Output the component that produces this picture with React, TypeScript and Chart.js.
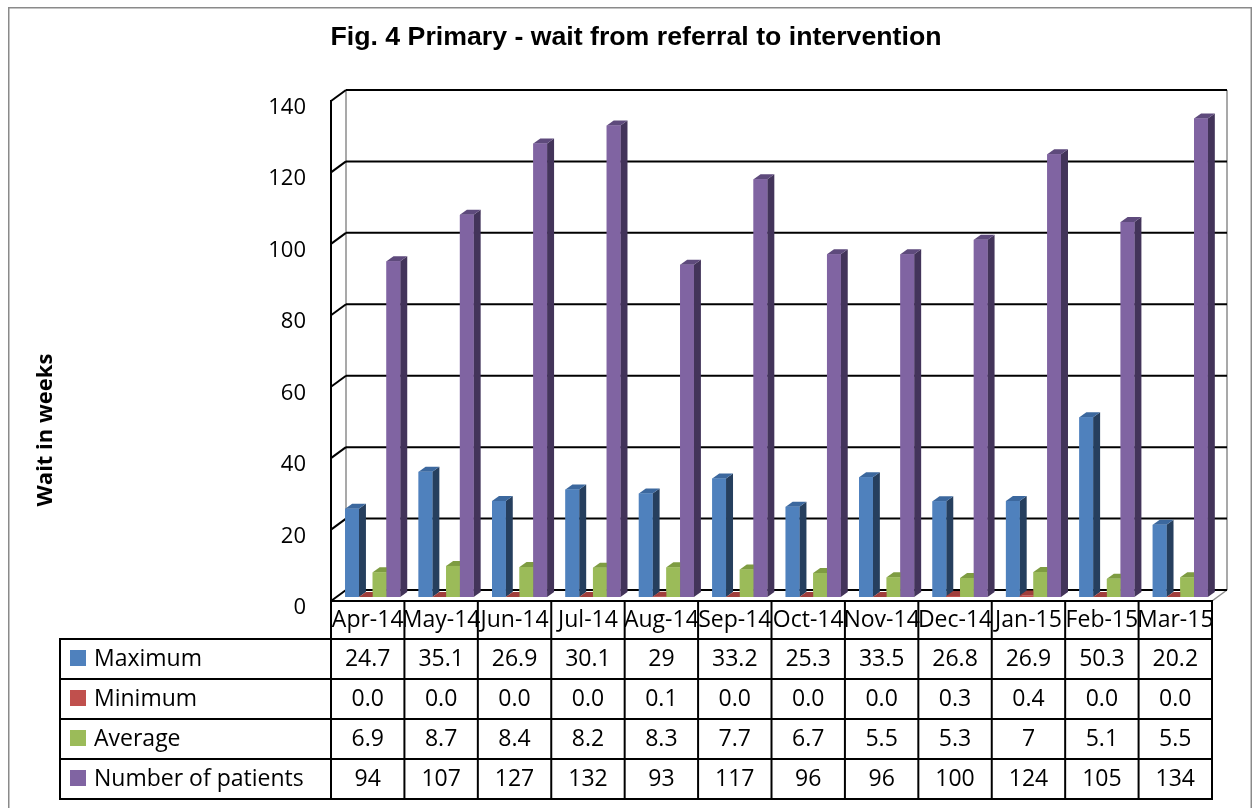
import React, { useEffect, useRef } from "react";
import { Chart, registerables } from "chart.js";

Chart.register(...registerables);

const TITLE = "Fig. 4 Primary - wait from referral to intervention";
const Y_TITLE = "Wait in weeks";
const CATEGORIES = ["Apr-14", "May-14", "Jun-14", "Jul-14", "Aug-14", "Sep-14", "Oct-14", "Nov-14", "Dec-14", "Jan-15", "Feb-15", "Mar-15"];
const MAXIMUM = [24.7, 35.1, 26.9, 30.1, 29, 33.2, 25.3, 33.5, 26.8, 26.9, 50.3, 20.2];
const MINIMUM = [0.0, 0.0, 0.0, 0.0, 0.1, 0.0, 0.0, 0.0, 0.3, 0.4, 0.0, 0.0];
const AVERAGE = [6.9, 8.7, 8.4, 8.2, 8.3, 7.7, 6.7, 5.5, 5.3, 7, 5.1, 5.5];
const PATIENTS = [94, 107, 127, 132, 93, 117, 96, 96, 100, 124, 105, 134];
const Y_TICKS = [0, 20, 40, 60, 80, 100, 120, 140];

const SERIES_NAMES = ["Maximum", "Minimum", "Average", "Number of patients"];
const SERIES_DATA = [MAXIMUM, MINIMUM, AVERAGE, PATIENTS];
const SERIES_DECIMALS = [-1, 1, -1, -1];
const FRONT_COLORS = ["#4F81BD", "#C0504D", "#9BBB59", "#8064A2"];
const SIDE_COLORS = ["#263F5E", "#873532", "#6C8638", "#43345A"];
const TOP_COLORS = ["#3C689E", "#A03E3B", "#7E9C42", "#5E4A7C"];

const W = 1244;
const H = 801;
const FRONT = { dx: -5, dy: 4 };
const BACK = { dx: 10, dy: -7 };
const BAR_DEPTH = { dx: 7, dy: -5 };
const FONT = "'Open Sans', 'Liberation Sans', sans-serif";

function fmt(v: number, dec: number) {
  return dec >= 0 ? v.toFixed(dec) : String(v);
}

function line(ctx: CanvasRenderingContext2D, x1: number, y1: number, x2: number, y2: number) {
  ctx.beginPath();
  ctx.moveTo(x1, y1);
  ctx.lineTo(x2, y2);
  ctx.stroke();
}

const threeD = {
  id: "threeD",
  beforeDraw(chart: any) {
    const ctx = chart.ctx as CanvasRenderingContext2D;
    ctx.save();
    ctx.fillStyle = "#ffffff";
    ctx.fillRect(0, 0, chart.width, chart.height);
    ctx.strokeStyle = "#8a8a8a";
    ctx.lineWidth = 1.5;
    ctx.strokeRect(0.75, 0.75, chart.width - 1.5, chart.height + 10);
    // title
    ctx.fillStyle = "#000";
    ctx.font = "bold 26.7px 'Liberation Sans', Arial, sans-serif";
    ctx.textAlign = "center";
    ctx.textBaseline = "alphabetic";
    ctx.fillText(TITLE, 628, 38);
    // y title
    ctx.save();
    ctx.translate(38, 423);
    ctx.rotate(-Math.PI / 2);
    ctx.font = "bold 22px " + FONT;
    ctx.textBaseline = "middle";
    ctx.fillText(Y_TITLE, 0, 0);
    ctx.restore();
    ctx.restore();
  },
  beforeDatasetsDraw(chart: any) {
    const ctx = chart.ctx as CanvasRenderingContext2D;
    const area = chart.chartArea;
    const ys = chart.scales.y;
    const yTop = ys.getPixelForValue(Y_TICKS[Y_TICKS.length - 1]);
    const y0 = ys.getPixelForValue(0);
    ctx.save();
    // back wall edges (gray)
    ctx.strokeStyle = "#8c8c8c";
    ctx.lineWidth = 1.5;
    line(ctx, area.left + BACK.dx, yTop + BACK.dy, area.left + BACK.dx, y0 + BACK.dy);
    line(ctx, area.right + BACK.dx, yTop + BACK.dy, area.right + BACK.dx, y0 + BACK.dy);
    line(ctx, area.right + FRONT.dx, y0 + FRONT.dy, area.right + BACK.dx, y0 + BACK.dy);
    // gridlines
    ctx.strokeStyle = "#000";
    ctx.lineWidth = 2;
    ctx.font = "22px " + FONT;
    ctx.fillStyle = "#000";
    ctx.textAlign = "right";
    ctx.textBaseline = "alphabetic";
    for (const v of Y_TICKS) {
      const yb = ys.getPixelForValue(v);
      line(ctx, area.left + BACK.dx, yb + BACK.dy, area.right + BACK.dx, yb + BACK.dy);
      line(ctx, area.left + FRONT.dx, yb + FRONT.dy, area.left + BACK.dx, yb + BACK.dy);
      ctx.fillText(String(v), 298, yb + FRONT.dy + 13);
    }
    line(ctx, area.left + FRONT.dx, yTop + FRONT.dy - 1, area.left + FRONT.dx, y0 + FRONT.dy);
    ctx.restore();
  },
  afterDatasetsDraw(chart: any) {
    const ctx = chart.ctx as CanvasRenderingContext2D;
    ctx.save();
    for (let i = 0; i < CATEGORIES.length; i++) {
      for (let d = 0; d < SERIES_DATA.length; d++) {
        const el = chart.getDatasetMeta(d).data[i];
        const { x, y, base, width } = el.getProps(["x", "y", "base", "width"], true);
        const l = x - width / 2;
        const r = x + width / 2;
        const top = Math.min(y, base);
        const bot = Math.max(y, base);
        ctx.fillStyle = SIDE_COLORS[d];
        ctx.beginPath();
        ctx.moveTo(r, top);
        ctx.lineTo(r + BAR_DEPTH.dx, top + BAR_DEPTH.dy);
        ctx.lineTo(r + BAR_DEPTH.dx, bot + BAR_DEPTH.dy);
        ctx.lineTo(r, bot);
        ctx.closePath();
        ctx.fill();
        ctx.fillStyle = TOP_COLORS[d];
        ctx.beginPath();
        ctx.moveTo(l, top);
        ctx.lineTo(l + BAR_DEPTH.dx, top + BAR_DEPTH.dy);
        ctx.lineTo(r + BAR_DEPTH.dx, top + BAR_DEPTH.dy);
        ctx.lineTo(r, top);
        ctx.closePath();
        ctx.fill();
        el.draw(ctx);
      }
    }
    ctx.restore();
  },
  afterDraw(chart: any) {
    const ctx = chart.ctx as CanvasRenderingContext2D;
    const area = chart.chartArea;
    const xs = chart.scales.x;
    const ys = chart.scales.y;
    const cw = xs.getPixelForValue(1) - xs.getPixelForValue(0);
    const headTop = ys.getPixelForValue(0) + FRONT.dy;
    const rowTop = headTop + 38;
    const rowH = 40;
    const nRows = SERIES_DATA.length;
    const bottom = rowTop + rowH * nRows;
    const colLeft = (i: number) => xs.getPixelForValue(i) - cw / 2 + FRONT.dx;
    const tableLeft = 52;
    const tableRight = area.right + FRONT.dx;
    ctx.save();
    ctx.strokeStyle = "#000";
    ctx.lineWidth = 2;
    // horizontal lines
    line(ctx, colLeft(0) - 1, headTop, tableRight + 1, headTop);
    for (let r = 0; r <= nRows; r++) {
      line(ctx, tableLeft - 1, rowTop + r * rowH, tableRight + 1, rowTop + r * rowH);
    }
    // vertical lines
    line(ctx, tableLeft, rowTop, tableLeft, bottom);
    for (let i = 0; i <= CATEGORIES.length; i++) {
      const xv = i < CATEGORIES.length ? colLeft(i) : tableRight;
      line(ctx, xv, headTop, xv, bottom);
    }
    // text
    ctx.fillStyle = "#000";
    ctx.font = "23px " + FONT;
    ctx.textBaseline = "alphabetic";
    ctx.textAlign = "center";
    for (let i = 0; i < CATEGORIES.length; i++) {
      const cx = colLeft(i) + cw / 2;
      ctx.fillText(CATEGORIES[i], cx, headTop + 26);
      for (let d = 0; d < nRows; d++) {
        ctx.fillText(fmt(SERIES_DATA[d][i], SERIES_DECIMALS[d]), cx, rowTop + d * rowH + 27);
      }
    }
    ctx.textAlign = "left";
    for (let d = 0; d < nRows; d++) {
      ctx.fillStyle = FRONT_COLORS[d];
      ctx.fillRect(62, rowTop + d * rowH + 11, 16, 16);
      ctx.fillStyle = "#000";
      ctx.fillText(SERIES_NAMES[d], 86, rowTop + d * rowH + 27);
    }
    ctx.restore();
  },
};

export default function App() {
  const ref = useRef<HTMLCanvasElement | null>(null);
  useEffect(() => {
    if (!ref.current) return;
    const chart = new Chart(ref.current, {
      type: "bar",
      data: {
        labels: CATEGORIES,
        datasets: SERIES_DATA.map((data, d) => ({
          label: SERIES_NAMES[d],
          data,
          backgroundColor: FRONT_COLORS[d],
          borderWidth: 0,
          categoryPercentage: 0.75,
          barPercentage: 1,
        })),
      },
      options: {
        responsive: false,
        animation: false,
        devicePixelRatio: 1,
        layout: { padding: { left: 328, right: 35, top: 90, bottom: 211 } },
        plugins: { legend: { display: false }, tooltip: { enabled: false }, title: { display: false } },
        scales: {
          x: { type: "category", display: false, offset: true },
          y: { min: 0, max: 140, display: false },
        },
      },
      plugins: [threeD],
    });
    return () => chart.destroy();
  }, []);
  return (
    <div style={{ position: "fixed", left: 8, top: 7, width: W, height: H }}>
      <canvas ref={ref} width={W} height={H} style={{ display: "block" }} />
    </div>
  );
}
